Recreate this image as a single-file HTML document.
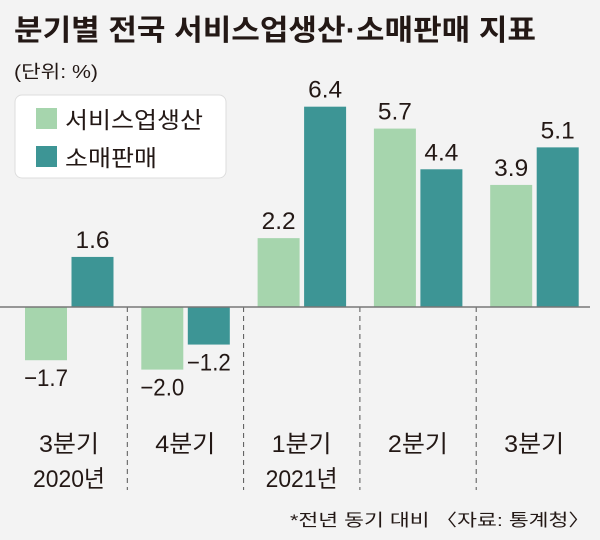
<!DOCTYPE html>
<html><head><meta charset="utf-8"><style>
body{margin:0;background:#f3f3f3}
svg{display:block;font-family:"Liberation Sans","Noto Sans CJK KR",sans-serif}
</style></head><body>
<svg id="c" width="600" height="540" viewBox="0 0 600 540">
<rect width="600" height="540" fill="#f3f3f3"/>
<text x="14" y="40" font-size="29" font-weight="bold" fill="#231815" textLength="522" lengthAdjust="spacingAndGlyphs">분기별 전국 서비스업생산·소매판매 지표</text>
<text x="14" y="78" font-size="18" fill="#231815" textLength="84" lengthAdjust="spacingAndGlyphs">(단위: %)</text>
<g>
<rect x="15" y="95" width="211" height="83" rx="7" fill="#fff" stroke="#ddd"/>
<rect x="36" y="108" width="21" height="21" fill="#a6d5ad"/>
<text x="65" y="128" font-size="23" fill="#231815" textLength="138" lengthAdjust="spacingAndGlyphs">서비스업생산</text>
<rect x="36" y="146" width="21" height="21" fill="#3d9595"/>
<text x="65" y="166" font-size="23" fill="#231815" textLength="92" lengthAdjust="spacingAndGlyphs">소매판매</text>
</g>
<g id="bars"></g>
<text x="590" y="526" font-size="17" fill="#231815" text-anchor="end" textLength="300" lengthAdjust="spacingAndGlyphs">*전년 동기 대비 〈자료: 통계청〉</text>
</svg>
<script>
const categories=["3분기","4분기","1분기","2분기","3분기"];
const years=["2020년","","2021년","",""];
const service=[-1.7,-2.0,2.2,5.7,3.9];
const retail=[1.6,-1.2,6.4,4.4,5.1];
const labelsService=["−1.7","−2.0","2.2","5.7","3.9"];
const labelsRetail=["1.6","−1.2","6.4","4.4","5.1"];
const NS="http://www.w3.org/2000/svg";
const g=document.getElementById("bars");
const y0=307,unit=31.3;
const y=v=>y0-v*unit;
const gx=i=>25+i*116.3;
const bw=42;
function mk(t,a){const e=document.createElementNS(NS,t);for(const k in a)e.setAttribute(k,a[k]);g.appendChild(e);return e;}
for(let i=1;i<5;i++){
 const s=mk("line",{x1:gx(i)-14,x2:gx(i)-14,y1:y0,y2:490,stroke:"#555","stroke-dasharray":"5,4","stroke-width":1});
 
 
}
function txt(x,yy,s,size,w){const t=mk("text",{x:x,y:yy,"font-size":size,fill:"#231815","text-anchor":"middle"});t.textContent=s;if(w){t.setAttribute("textLength",w);t.setAttribute("lengthAdjust","spacingAndGlyphs");}return t;}
categories.forEach((c,i)=>{
 const series=[[service[i],"#a6d5ad",labelsService[i],0,"service"],[retail[i],"#3d9595",labelsRetail[i],1,"retail"]];
 series.forEach(([v,col,lab,k,nm])=>{
  const x=gx(i)+k*(bw+4.5);
  const r=mk("rect",{x:x,y:Math.min(y(v),y0),width:bw,height:Math.abs(v)*unit,fill:col});
  
  
  const ly=v>=0?y(v)-9:y(v)+26;
  const t=txt(x+bw/2,ly,lab,24,v<0?44:34);
  
  
 });
 const cx=gx(i)+bw+2;
 const t=txt(cx,452,c,24,60);
 
 
 if(years[i]){const t2=txt(cx,487,years[i],24,72);
  
  }
});
const base=mk("line",{x1:0,x2:590,y1:y0,y2:y0,stroke:"#777","stroke-width":1.5});


</script>
</body></html>
